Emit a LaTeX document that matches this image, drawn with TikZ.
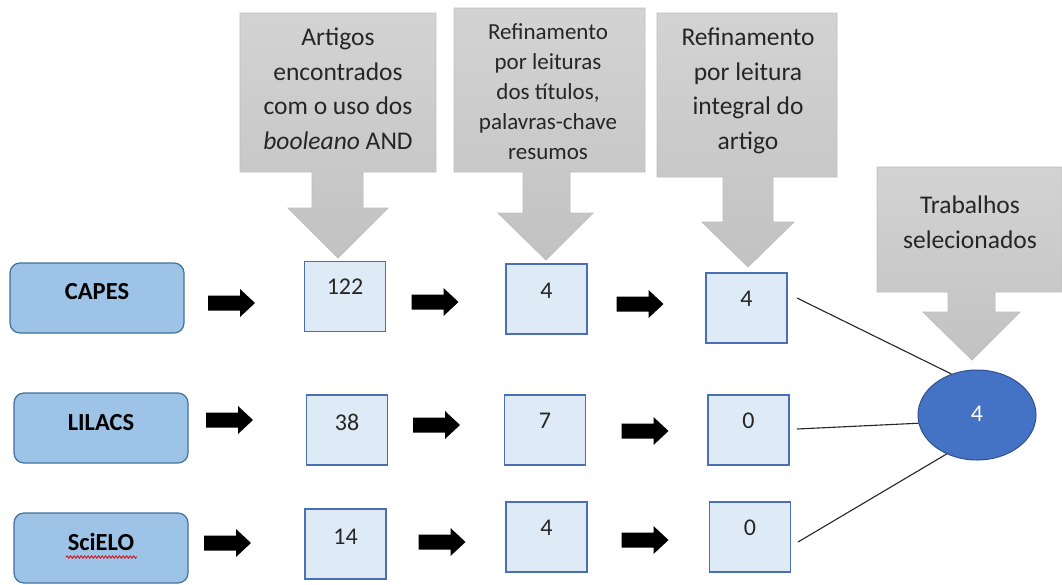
\documentclass[tikz,border=0pt]{standalone}
\usepackage{fontspec}
\setmainfont{Carlito}
\usetikzlibrary{shapes.geometric,decorations.pathmorphing}
\definecolor{calfill}{HTML}{C9C9C9}
\definecolor{caltop}{HTML}{D3D3D3}
\definecolor{calbot}{HTML}{C2C2C2}
\definecolor{calborder}{HTML}{BEBEBE}
\definecolor{srcfill}{HTML}{9DC3E6}
\definecolor{srcborder}{HTML}{41719C}
\definecolor{cntfill}{HTML}{DEEBF7}
\definecolor{cntborder}{HTML}{4A6FB5}
\definecolor{ellfill}{HTML}{4472C4}
\definecolor{ellborder}{HTML}{2F528F}
\definecolor{txt}{HTML}{262626}
\begin{document}
\begin{tikzpicture}[x=1pt,y=-1pt,
  srcbox/.style={draw=srcborder, fill=srcfill, rounded corners=10pt, line width=1.2pt,
    minimum width=174pt, minimum height=70pt, inner sep=0pt},
  srctxt/.style={anchor=center, font=\fontsize{24.5}{28}\selectfont\bfseries, text=black, inner sep=0pt},
  cntbox/.style={draw=cntborder, fill=cntfill, line width=1.2pt,
    minimum width=81pt, minimum height=70pt, inner sep=0pt},
  cnttxt/.style={anchor=center, font=\fontsize{24}{28}\selectfont, text=txt, inner sep=0pt},
  callout/.style={draw=calborder, line width=0.8pt, top color=caltop, bottom color=calbot},
  caltxt/.style={align=center, font=\fontsize{25.5}{34.5}\selectfont, text=txt, inner sep=0pt},
  caltxtsmall/.style={align=center, font=\fontsize{23}{30}\selectfont, text=txt, inner sep=0pt},
  ellnode/.style={ellipse, draw=ellborder, fill=ellfill, line width=1pt,
    minimum width=118pt, minimum height=90pt, inner sep=0pt, text=white,
    font=\fontsize{24}{28}\selectfont},
  link/.style={draw=black!85, line width=1.1pt},
  blk/.pic={\fill[black] (-23.5,-7.5) -- (8.5,-7.5) -- (8.5,-14) -- (23.5,0) -- (8.5,14) -- (8.5,7.5) -- (-23.5,7.5) -- cycle;}
]
\useasboundingbox[fill=white] (0,0) rectangle (1062,584);

% gray callouts
\path[callout] (240,13) -- (436,13) -- (436,172) -- (363,172) -- (363,208) -- (388,208)
  -- (338,258) -- (288,208) -- (312,208) -- (312,172) -- (240,172) -- cycle;
\path[callout] (454,8) -- (645,8) -- (645,172) -- (570,172) -- (570,213) -- (593,213)
  -- (546,260) -- (498,213) -- (523,213) -- (523,172) -- (454,172) -- cycle;
\path[callout] (657,13) -- (837,13) -- (837,177) -- (773,177) -- (773,222) -- (794,222)
  -- (748,267) -- (702,222) -- (723,222) -- (723,177) -- (657,177) -- cycle;
\path[callout] (877,167) -- (1062,167) -- (1062,292) -- (995,292) -- (995,312) -- (1020,312)
  -- (972,360) -- (923,312) -- (948,312) -- (948,292) -- (877,292) -- cycle;

\node[caltxt] (t1) at (338,89) {Artigos\\encontrados\\com o uso dos\\\textit{booleano} AND};
\node[caltxtsmall] (t2) at (548,92) {Refinamento\\por leituras\\dos títulos,\\palavras-chave\\resumos};
\node[caltxt] (t3) at (748,91) {Refinamento\\por leitura\\integral do\\artigo};
\node[caltxt] (t4) at (970,222) {Trabalhos\\selecionados};

% source boxes
\node[srcbox, label={[srctxt, yshift=-29pt]north:CAPES}] (capes) at (97,298) {};
\node[srcbox, label={[srctxt, yshift=-30pt]north:LILACS}] (lilacs) at (101,428) {};
\node[srcbox, label={[srctxt, yshift=-30pt]north:SciELO}] (scielo) at (101,548) {};
\draw[red!85!black, line width=0.8pt, decorate, decoration={snake, amplitude=1.2pt, segment length=3.5pt}]
  (66,557) -- (137,557);

% count boxes
\node[cntbox, label={[cnttxt, yshift=-26pt]north:122}] (c1a) at (345,296.5) {};
\node[cntbox, label={[cnttxt, yshift=-27pt]north:4}] (c2a) at (546.5,299) {};
\node[cntbox, label={[cnttxt, yshift=-26pt]north:4}] (c3a) at (746.5,308) {};
\node[cntbox, label={[cnttxt, yshift=-28pt]north:38}] (c1b) at (347,430) {};
\node[cntbox, label={[cnttxt, yshift=-26pt]north:7}] (c2b) at (545,430) {};
\node[cntbox, label={[cnttxt, yshift=-26pt]north:0}] (c3b) at (748.5,430) {};
\node[cntbox, label={[cnttxt, yshift=-28pt]north:14}] (c1c) at (345.5,544) {};
\node[cntbox, label={[cnttxt, yshift=-26pt]north:4}] (c2c) at (546.5,537) {};
\node[cntbox, label={[cnttxt, yshift=-26pt]north:0}] (c3c) at (750,537) {};

% black block arrows
\pic at (231.5,303) {blk};
\pic at (435,302) {blk};
\pic at (640,304) {blk};
\pic at (229.5,420) {blk};
\pic at (436.5,425) {blk};
\pic at (645,431) {blk};
\pic at (227.5,543) {blk};
\pic at (442,542) {blk};
\pic at (645,540) {blk};

% result ellipse
\node[ellnode] (res) at (977,415) {\raisebox{3pt}{4}};

% connectors
\coordinate (s1) at (797,298);
\coordinate (s2) at (797,429);
\coordinate (s3) at (798,542);
\draw[link] (s1) -- (res.122);
\draw[link] (s2) -- (res.188);
\draw[link] (s3) -- (res.232);
\end{tikzpicture}
\end{document}
